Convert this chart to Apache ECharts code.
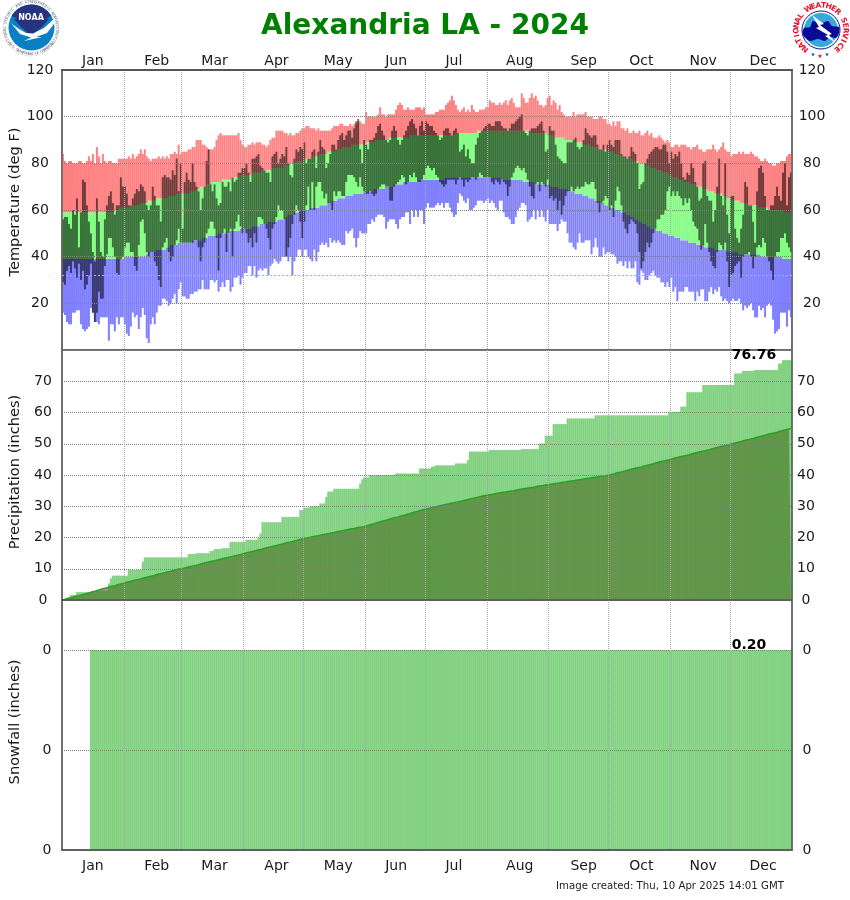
<!DOCTYPE html>
<html><head><meta charset="utf-8">
<script src="https://cdn.jsdelivr.net/npm/echarts@6/dist/echarts.min.js"></script>
<style>html,body{margin:0;padding:0;background:#fff}#c{width:850px;height:900px}</style></head>
<body><div id="c"></div>
<script>
const titleText = 'Alexandria LA - 2024';
const footerText = 'Image created: Thu, 10 Apr 2025 14:01 GMT';
const months = ['Jan','Feb','Mar','Apr','May','Jun','Jul','Aug','Sep','Oct','Nov','Dec'];
const monthDays = [31,29,31,30,31,30,31,31,30,31,30,31];
const monthLabelDay = [15,47,76,107,138,167,196,229,261,290,321,351];
const tempTicks = {min:0,max:120,step:20};
const precipTicks = {min:0,max:80,step:10};
const snowTicks = {min:0,max:0.25,step:0.1};
const freezing = 32;
const precipTotal = '76.76';
const snowTotal = '0.20';

const recordHigh = [
84,81,80,81,81,80,80,80,81,81,80,80,81,83,81,84,80,87,83,80,84,81,80,81,81,80,80,80,82,82,82,
82,82,83,82,84,82,83,84,86,84,86,83,82,81,82,82,82,83,82,83,82,83,82,84,84,85,84,88,84,
85,85,85,86,86,87,87,90,90,90,88,88,87,86,86,86,87,90,92,93,92,92,92,92,92,92,92,92,93,90,88,
87,87,88,88,89,88,89,89,89,88,88,87,88,90,91,91,94,94,94,94,93,93,92,93,92,92,93,93,94,95,
95,96,96,95,95,95,94,95,94,94,94,94,94,94,95,96,96,96,97,97,96,96,96,97,96,97,97,98,98,97,97,
102,100,100,100,100,100,101,104,101,101,100,101,101,101,101,103,105,106,105,103,103,104,103,103,103,104,104,104,103,104,
101,101,101,101,101,102,102,103,103,103,105,106,107,109,107,105,103,102,103,104,102,103,102,105,103,102,102,103,103,103,104,
104,107,106,106,105,105,106,105,106,107,105,107,108,106,104,104,104,110,108,106,106,108,110,108,109,107,105,105,104,105,108,
109,105,107,106,103,105,102,101,100,100,100,100,102,100,101,101,101,101,102,100,100,100,99,99,99,100,100,99,99,97,
97,96,98,96,98,98,95,95,94,95,93,93,94,93,93,94,92,92,93,94,92,93,91,91,91,92,91,90,89,90,89,
87,87,88,88,87,88,88,88,87,87,86,87,87,88,86,86,85,85,86,86,86,88,86,85,86,87,89,86,85,85,
83,84,84,84,85,84,85,84,84,84,85,84,83,83,82,81,81,82,81,80,80,79,79,80,80,81,81,81,83,84,84];

const recordLow = [
16,15,12,11,11,16,16,17,17,11,9,8,9,10,18,16,12,12,11,14,14,14,14,4,11,11,8,14,11,14,14,
11,7,6,10,16,14,15,9,14,18,15,5,3,11,14,11,16,19,19,22,22,21,19,20,22,24,20,26,29,
23,23,22,22,24,24,25,25,26,26,30,26,26,26,30,30,29,30,25,27,29,27,30,30,25,27,31,31,32,28,31,
33,33,36,36,32,36,31,34,35,34,35,35,32,36,37,39,38,37,38,40,40,40,38,40,32,38,40,43,43,40,
43,43,40,39,38,43,38,42,45,46,45,46,44,48,46,47,46,47,46,45,45,51,50,51,52,48,44,48,51,50,50,
50,54,54,56,55,57,58,58,58,57,52,55,56,56,56,54,52,56,57,57,59,59,54,60,57,60,57,60,60,54,
61,63,61,61,61,62,63,62,63,61,63,63,61,59,57,58,63,67,66,64,63,65,60,60,61,62,64,64,64,63,64,
65,63,64,63,61,60,64,64,59,57,57,56,54,54,57,60,61,63,63,62,55,56,57,60,56,60,57,60,57,55,60,
54,54,54,54,51,54,56,55,55,50,46,46,44,43,46,50,46,46,47,47,47,41,44,48,44,40,40,44,41,42,
42,41,41,40,37,38,38,36,38,35,38,35,35,38,29,28,34,33,30,30,32,33,34,32,31,31,29,29,27,29,27,
31,25,27,21,25,25,25,27,27,25,25,25,21,25,23,26,26,21,21,25,27,24,26,25,27,23,21,22,21,20,
21,22,21,21,22,20,17,19,18,19,20,17,14,14,19,17,18,14,19,20,19,13,7,8,9,16,16,16,10,17,14];

const normalHigh = [
59,59,59,59,59,59,59,59,59,59,59,59,59,59,59,59,59,59,59,59,59,59,59,59,59,59,60,60,61,61,61,
61,61,61,62,62,62,62,62,63,63,63,63,64,64,64,64,65,65,65,65,65,65,66,66,66,66,67,67,67,
67,67,67,67,68,68,68,69,69,70,70,70,71,71,71,72,72,72,72,72,73,73,73,73,73,74,74,74,74,75,75,
75,75,75,75,76,76,76,76,76,77,77,77,77,77,78,78,78,78,78,78,79,79,79,80,80,80,81,81,81,81,
82,82,82,82,83,83,83,83,84,84,84,84,85,85,85,85,86,86,86,87,87,87,87,87,88,88,88,88,88,88,88,
89,89,89,89,89,90,90,90,90,90,90,90,91,91,91,91,91,91,91,91,91,91,92,92,92,92,92,92,92,92,
92,92,92,92,92,92,92,92,92,92,92,92,92,92,92,93,93,93,93,93,93,93,93,93,93,93,94,94,94,94,94,
94,94,94,94,94,94,94,94,94,94,94,94,94,94,94,94,94,94,94,94,94,94,93,93,93,93,93,93,93,93,92,
92,92,92,91,91,91,91,91,90,90,90,90,90,89,89,89,89,88,88,88,88,87,87,87,87,86,86,86,86,85,
85,85,85,84,84,84,83,83,83,82,82,82,81,81,81,80,80,80,79,79,79,78,78,78,77,77,77,76,76,76,75,
75,74,74,74,73,73,73,72,72,72,71,71,71,70,70,70,69,69,69,68,68,68,67,67,67,67,66,66,65,65,
65,64,64,64,64,63,63,63,63,62,62,62,62,62,61,61,61,61,61,60,60,60,60,60,60,60,60,59,59,59,59];

const normalLow = [
39,39,39,39,39,39,39,39,39,39,39,39,39,39,39,39,39,39,39,39,39,39,39,39,39,39,39,39,39,39,39,
40,40,40,40,40,40,40,40,40,40,40,41,42,42,42,42,43,43,43,43,43,44,44,45,45,45,45,46,46,
46,46,46,46,46,47,47,47,47,47,48,48,48,49,49,49,49,49,50,50,50,50,50,50,51,51,51,51,51,52,52,
52,52,52,52,53,53,53,53,54,54,54,54,55,55,55,55,55,56,56,56,56,57,58,58,58,59,59,59,60,60,
60,60,60,61,61,61,61,61,62,62,62,62,63,63,64,64,64,65,65,65,65,66,66,66,66,67,67,67,67,67,68,
68,68,68,68,69,69,69,69,69,69,70,70,70,70,71,71,71,71,71,72,72,72,72,72,72,72,72,73,73,73,
73,73,73,73,73,73,73,73,73,73,74,74,74,74,74,74,74,74,74,74,74,74,74,74,74,74,74,74,74,74,74,
74,74,74,74,74,74,74,73,73,73,73,73,73,73,73,73,73,73,72,72,72,72,72,72,71,71,71,71,71,71,71,
71,70,70,70,70,69,69,69,69,69,68,68,68,67,67,67,67,66,66,66,65,65,65,64,64,64,63,63,62,62,
61,61,61,60,60,60,59,59,59,58,58,57,57,56,56,55,55,54,54,53,53,52,52,52,51,51,51,50,50,50,49,
49,49,48,48,48,47,47,47,47,46,46,46,46,45,45,45,45,44,44,44,44,44,43,43,43,43,43,43,42,42,
42,42,42,42,41,41,41,41,41,41,41,41,41,41,41,40,40,40,40,40,40,40,40,40,40,40,39,39,39,39,39];

const actualHigh = [
56,57,57,54,52,60,58,65,44,59,73,72,62,55,50,42,38,65,55,42,40,56,62,66,68,63,58,62,62,74,70,
70,67,62,62,65,67,69,68,71,70,68,62,60,62,70,66,62,62,55,74,75,74,74,73,77,75,82,68,80,
52,72,76,73,72,80,72,70,68,60,65,70,81,86,71,68,71,65,62,63,72,70,70,72,68,74,72,73,76,76,78,
78,80,76,72,82,82,83,84,79,78,77,76,76,72,83,84,85,80,82,84,83,87,80,75,74,82,86,85,87,86,
89,80,82,82,85,86,78,85,90,87,86,78,80,84,88,88,86,90,92,93,90,92,94,94,91,95,98,99,86,80,90,
88,86,90,90,91,93,96,97,94,92,90,89,90,94,96,94,90,88,90,92,94,96,98,99,97,95,92,96,98,94,
98,97,96,96,94,93,92,90,91,94,95,95,93,92,94,95,93,85,86,88,83,86,82,80,80,88,91,93,94,95,96,
97,97,96,96,98,98,98,96,95,95,94,95,97,97,98,99,100,101,94,93,92,94,95,95,95,96,97,98,94,85,86,
96,94,94,88,83,82,81,80,80,89,89,89,90,91,87,86,87,90,95,93,92,91,92,92,88,86,86,88,85,88,
90,88,87,90,90,90,84,83,83,82,83,87,85,84,80,69,71,72,80,82,84,85,86,87,87,86,86,88,88,85,80,
85,82,84,83,85,80,74,73,76,75,80,78,72,70,64,65,80,81,66,64,64,55,60,70,82,66,62,80,58,50,
66,66,52,48,46,52,58,72,70,62,62,55,46,68,78,79,76,66,60,60,62,62,66,70,66,64,76,80,62,74,76];

const actualLow = [
29,28,34,36,33,38,35,31,37,30,34,26,28,32,37,16,12,16,25,22,22,36,41,48,48,44,40,33,32,39,40,
44,46,46,42,42,36,34,45,55,56,50,42,40,42,42,38,36,30,27,44,46,48,42,38,40,45,47,52,46,
46,46,46,46,46,46,47,47,44,38,44,46,50,52,55,55,52,48,34,48,50,52,42,50,52,40,52,55,58,53,50,
52,50,46,48,44,50,46,57,57,56,54,52,48,43,52,54,57,62,60,60,56,40,44,48,54,58,62,60,55,48,
55,62,70,60,72,60,70,72,72,68,65,67,63,63,60,68,66,68,68,66,66,72,75,75,75,74,72,70,74,70,68,
67,67,68,67,66,67,69,70,71,71,70,70,64,64,70,71,72,73,75,74,71,72,75,74,76,74,72,72,73,75,
78,79,78,77,78,75,74,72,71,70,71,73,73,73,73,71,73,74,73,70,73,72,73,74,74,73,74,76,75,74,74,
74,74,72,71,73,72,71,73,72,71,66,70,74,76,78,79,78,77,78,76,73,70,66,65,71,72,68,72,71,70,73,
65,66,64,65,60,64,58,62,66,68,68,70,68,69,70,69,70,70,72,71,71,72,72,69,63,59,63,64,66,65,
60,62,57,64,70,68,62,55,52,50,54,56,55,54,50,42,35,38,42,46,44,46,50,52,56,56,58,58,60,68,70,
66,68,66,68,66,65,62,65,63,65,60,55,53,52,47,43,45,54,46,42,38,36,35,42,46,45,43,46,38,27,
32,33,36,37,38,31,40,41,41,42,40,35,40,44,45,44,48,46,40,38,34,30,40,42,42,48,48,50,46,44,42];

const precipActual = [
0.1,0.3,0.6,0.9,1.6,1.6,1.6,2.5,2.5,2.5,2.5,2.5,2.5,2.5,2.5,2.5,2.5,3.0,3.0,3.0,3.0,3.0,3.0,5.3,6.9,7.8,7.8,7.8,7.8,7.8,7.8,
7.8,7.8,9.6,9.6,9.6,9.6,9.6,9.6,9.6,12.3,13.65,13.65,13.65,13.65,13.65,13.65,13.65,13.65,13.65,13.65,13.65,13.65,13.65,13.65,13.65,13.65,13.65,13.65,13.65,
13.65,13.65,13.65,14.7,14.7,14.7,14.7,15,15,15,15,15,15,15,15.7,15.7,16.3,16.3,16.3,16.3,16.6,16.6,16.6,16.6,18.6,18.6,18.6,18.6,18.6,18.6,18.6,
18.6,19.3,19.3,19.3,19.3,19.3,19.3,19.9,21.3,24.9,24.9,24.9,24.9,24.9,24.9,24.9,24.9,24.9,24.9,26.6,26.6,26.6,26.6,26.6,26.6,26.6,26.6,26.6,28.8,28.8,
29.5,29.5,29.5,30,30,30,30,30,30.9,30.9,30.9,33,34.7,34.7,34.7,35.6,35.6,35.6,35.6,35.6,35.6,35.6,35.6,35.6,35.6,35.6,35.6,35.6,37.3,38.6,39.25,
39.25,39.25,40,40,40,40,40,40,40,40,40,40,40,40,40,40.5,40.5,40.5,40.5,40.5,40.5,40.5,40.5,40.5,40.5,40.5,40.5,42.1,42.1,42.1,
42.1,42.1,42.1,42.7,42.7,43.1,43.1,43.1,43.1,43.1,43.1,43.1,43.1,43.1,43.1,43.7,43.7,43.7,43.7,43.7,43.7,44.8,47.5,47.5,47.5,47.5,47.5,47.5,47.5,47.5,47.5,
47.5,48,48,48,48,48,48,48,48,48,48,48,48,48,48,48,48,48.3,48.3,48.3,48.3,48.3,48.3,48.3,48.3,48.3,50.1,50.1,50.1,52.6,52.6,
52.6,52.6,56.3,56.3,56.3,56.3,56.3,56.3,56.3,58.1,58.1,58.1,58.1,58.1,58.1,58.1,58.1,58.1,58.1,58.1,58.1,58.1,58.1,59.1,59.1,59.1,59.1,59.1,59.1,59.1,
59.1,59.1,59.1,59.1,59.1,59.1,59.1,59.1,59.1,59.1,59.1,59.1,59.1,59.1,59.1,59.1,59.1,59.1,59.1,59.1,59.1,59.1,59.1,59.1,59.1,59.1,59.1,59.1,59.1,59.1,60.2,
60.2,60.2,60.2,60.2,60.2,61.9,61.9,61.9,66.5,66.5,66.5,66.5,66.5,66.5,66.5,66.5,68.8,68.8,68.8,68.8,68.8,68.8,68.8,68.8,68.8,68.8,68.8,68.8,68.8,68.8,
68.8,68.8,72.5,72.5,72.5,72.5,73.3,73.3,73.3,73.3,73.3,73.3,73.6,73.6,73.6,73.6,73.6,73.6,73.6,73.6,73.6,73.6,73.6,73.6,75.7,75.7,76.76,76.76,76.76,76.76,76.76];

const precipNormal = [
0.0,0.2,0.4,0.5,0.7,0.9,1.1,1.2,1.4,1.6,1.8,2.0,2.1,2.3,2.5,2.7,2.8,3.0,3.2,3.4,3.6,3.7,3.9,4.1,4.3,4.4,4.6,4.8,5.0,5.2,5.3,
5.5,5.7,5.8,6.0,6.2,6.3,6.5,6.6,6.8,7.0,7.1,7.3,7.5,7.6,7.8,7.9,8.1,8.3,8.4,8.6,8.8,8.9,9.1,9.2,9.4,9.6,9.7,9.9,10.0,
10.1,10.3,10.4,10.6,10.7,10.9,11.0,11.2,11.3,11.5,11.7,11.8,12.0,12.1,12.3,12.4,12.6,12.7,12.9,13.0,13.2,13.4,13.5,13.7,13.8,14.0,14.1,14.3,14.4,14.6,14.7,
14.9,15.1,15.2,15.4,15.5,15.7,15.9,16.0,16.2,16.3,16.5,16.7,16.8,17.0,17.1,17.3,17.5,17.6,17.8,17.9,18.1,18.3,18.4,18.6,18.7,18.9,19.1,19.2,19.4,19.5,
19.7,19.8,20.0,20.1,20.2,20.4,20.5,20.6,20.7,20.9,21.0,21.1,21.3,21.4,21.5,21.6,21.8,21.9,22.0,22.2,22.3,22.4,22.5,22.7,22.8,22.9,23.1,23.2,23.3,23.4,23.6,
23.7,23.9,24.1,24.3,24.4,24.6,24.8,25.0,25.2,25.4,25.5,25.7,25.9,26.1,26.3,26.4,26.6,26.8,27.0,27.2,27.3,27.5,27.7,27.9,28.1,28.3,28.4,28.6,28.8,29.0,
29.1,29.3,29.4,29.6,29.7,29.8,30.0,30.1,30.3,30.4,30.6,30.7,30.9,31.0,31.1,31.3,31.4,31.6,31.7,31.9,32.0,32.2,32.3,32.4,32.6,32.7,32.9,33.0,33.2,33.3,33.5,
33.6,33.7,33.8,33.9,34.0,34.2,34.3,34.4,34.5,34.6,34.7,34.8,34.9,35.0,35.1,35.3,35.4,35.5,35.6,35.7,35.8,35.9,36.0,36.1,36.2,36.4,36.5,36.6,36.7,36.8,36.9,
37.0,37.1,37.2,37.3,37.4,37.5,37.6,37.7,37.8,37.9,38.0,38.1,38.2,38.3,38.4,38.5,38.6,38.7,38.8,38.9,39.0,39.1,39.2,39.3,39.4,39.5,39.6,39.7,39.8,39.9,
40.0,40.2,40.3,40.5,40.7,40.8,41.0,41.2,41.3,41.5,41.7,41.8,42.0,42.2,42.3,42.5,42.6,42.8,43.0,43.1,43.3,43.5,43.6,43.8,44.0,44.1,44.3,44.5,44.6,44.8,44.9,
45.1,45.3,45.4,45.6,45.7,45.9,46.1,46.2,46.4,46.5,46.7,46.9,47.0,47.2,47.3,47.5,47.7,47.8,48.0,48.1,48.3,48.5,48.6,48.8,48.9,49.1,49.3,49.4,49.6,49.7,
49.9,50.1,50.2,50.4,50.6,50.7,50.9,51.1,51.2,51.4,51.6,51.7,51.9,52.1,52.2,52.4,52.6,52.7,52.9,53.1,53.2,53.4,53.6,53.7,53.9,54.1,54.2,54.4,54.6,54.7,54.9];

const snowActual = [
0,0,0,0,0,0,0,0,0,0,0,0,0,0,.2,.2,.2,.2,.2,.2,.2,.2,.2,.2,.2,.2,.2,.2,.2,.2,.2,
.2,.2,.2,.2,.2,.2,.2,.2,.2,.2,.2,.2,.2,.2,.2,.2,.2,.2,.2,.2,.2,.2,.2,.2,.2,.2,.2,.2,.2,
.2,.2,.2,.2,.2,.2,.2,.2,.2,.2,.2,.2,.2,.2,.2,.2,.2,.2,.2,.2,.2,.2,.2,.2,.2,.2,.2,.2,.2,.2,.2,
.2,.2,.2,.2,.2,.2,.2,.2,.2,.2,.2,.2,.2,.2,.2,.2,.2,.2,.2,.2,.2,.2,.2,.2,.2,.2,.2,.2,.2,.2,
.2,.2,.2,.2,.2,.2,.2,.2,.2,.2,.2,.2,.2,.2,.2,.2,.2,.2,.2,.2,.2,.2,.2,.2,.2,.2,.2,.2,.2,.2,.2,
.2,.2,.2,.2,.2,.2,.2,.2,.2,.2,.2,.2,.2,.2,.2,.2,.2,.2,.2,.2,.2,.2,.2,.2,.2,.2,.2,.2,.2,.2,
.2,.2,.2,.2,.2,.2,.2,.2,.2,.2,.2,.2,.2,.2,.2,.2,.2,.2,.2,.2,.2,.2,.2,.2,.2,.2,.2,.2,.2,.2,.2,
.2,.2,.2,.2,.2,.2,.2,.2,.2,.2,.2,.2,.2,.2,.2,.2,.2,.2,.2,.2,.2,.2,.2,.2,.2,.2,.2,.2,.2,.2,.2,
.2,.2,.2,.2,.2,.2,.2,.2,.2,.2,.2,.2,.2,.2,.2,.2,.2,.2,.2,.2,.2,.2,.2,.2,.2,.2,.2,.2,.2,.2,
.2,.2,.2,.2,.2,.2,.2,.2,.2,.2,.2,.2,.2,.2,.2,.2,.2,.2,.2,.2,.2,.2,.2,.2,.2,.2,.2,.2,.2,.2,.2,
.2,.2,.2,.2,.2,.2,.2,.2,.2,.2,.2,.2,.2,.2,.2,.2,.2,.2,.2,.2,.2,.2,.2,.2,.2,.2,.2,.2,.2,.2,
.2,.2,.2,.2,.2,.2,.2,.2,.2,.2,.2,.2,.2,.2,.2,.2,.2,.2,.2,.2,.2,.2,.2,.2,.2,.2,.2,.2,.2,.2,.2];

// ---- category axis helpers
const dayCats = [], monthStart = {}, monthMid = {};
monthDays.forEach((n, m) => {
  monthStart[dayCats.length] = true;
  monthMid[monthLabelDay[m]] = months[m];
  for (let d = 1; d <= n; d++) dayCats.push(months[m] + ' ' + d);
});
const FONT = '"DejaVu Sans", Verdana, sans-serif';
const diff = (a, b) => a.map((v, i) => +(v - b[i]).toFixed(2));
const fixedFont = {fontFamily: FONT, fontSize: 14, color: '#1a1a1a'};

function xAxis(gridIndex, position, labels, margin) {
  return {
    type: 'category', gridIndex, position, data: dayCats, z: 6,
    axisTick: {show: false},
    axisLine: {show: true, onZero: false, lineStyle: {color: '#555', width: position === 'top' ? 2 : 1.5}},
    axisLabel: {show: labels, ...fixedFont, margin, interval: (i) => monthMid[i] !== undefined, formatter: (v, i) => monthMid[i] || '', hideOverlap: false},
    splitLine: {show: true, interval: (i) => monthStart[i] === true && i > 0, lineStyle: {color: '#a6a6a6', type: [1, 1], width: 1}}
  };
}
function yAxis(gridIndex, position, ticks, margin, labelExtra, opts) {
  return Object.assign({
    type: 'value', gridIndex, position, min: ticks.min, max: ticks.max, interval: ticks.step, z: 6,
    axisTick: {show: false},
    axisLine: {show: true, onZero: false, lineStyle: {color: '#666', width: 1.5}},
    axisLabel: {...fixedFont, margin, align: 'center', ...labelExtra},
    splitLine: {show: false}
  }, opts || {});
}
const hGrid = {show: true, lineStyle: {color: '#808080', type: [1, 1], width: 1}};
const nameOpt = (name, gap, pad) => ({
  name, nameLocation: 'middle', nameGap: gap, nameRotate: 90, nameMoveOverlap: false,
  nameTextStyle: {fontFamily: FONT, fontSize: 14.6, color: '#1a1a1a', padding: pad}
});
const zeroFmt = (v) => v.toFixed(0);

function bar(name, data, color, stack, x, y, z) {
  return {name, type: 'bar', data, stack, xAxisIndex: x, yAxisIndex: y, barWidth: 2, barGap: '-100%',
          itemStyle: {color}, z: z || 2, silent: true, animation: false, emphasis: {disabled: true}};
}
const series = [
  bar('recordLowBase', recordLow, 'transparent', 'band', 0, 0),
  bar('belowNormalLow', diff(normalLow, recordLow), '#8080ff', 'band', 0, 0),
  bar('normalRange', diff(normalHigh, normalLow), '#80ff80', 'band', 0, 0),
  bar('aboveNormalHigh', diff(recordHigh, normalHigh), '#ff8080', 'band', 0, 0),
  bar('actualLowBase', actualLow, 'transparent', 'obs', 0, 0, 3),
  Object.assign(bar('actualRange', diff(actualHigh, actualLow), 'rgba(0,0,0,0.55)', 'obs', 0, 0, 3), {
    markLine: {silent: true, symbol: 'none', animation: false, label: {show: false}, z: 8,
      lineStyle: {color: '#00ffff', type: [2, 2], width: 1}, data: [{yAxis: freezing}]}
  }),
  {name: 'normalPrecipArea', type: 'line', data: precipNormal, xAxisIndex: 1, yAxisIndex: 1, showSymbol: false, silent: true,
   lineStyle: {width: 0}, areaStyle: {color: '#b98c8c', opacity: 1}, z: 1, animation: false},
  bar('precip', precipActual, 'rgba(0,163,0,0.49)', undefined, 1, 1, 2),
  {name: 'normalPrecipLine', type: 'line', data: precipNormal, xAxisIndex: 1, yAxisIndex: 1, showSymbol: false, silent: true,
   lineStyle: {width: 1.5, color: '#2aa020'}, z: 3, animation: false},
  bar('snow', snowActual, 'rgba(0,163,0,0.49)', undefined, 2, 2, 2)
];

// ---- logo helpers (decoration, drawn as graphic elements)
function ring(text, cx, cy, r, a0, a1, font, fill, flip) {
  const out = [], n = text.length;
  for (let i = 0; i < n; i++) {
    if (text[i] === ' ') continue;
    const th = (a0 + (a1 - a0) * i / (n - 1)) * Math.PI / 180;
    out.push({type: 'text', x: cx + r * Math.sin(th), y: cy - r * Math.cos(th),
      rotation: flip ? Math.PI - th : -th, silent: true,
      style: {text: text[i], fill, font, textAlign: 'center', textVerticalAlign: 'middle'}});
  }
  return out;
}
const noaaLogo = [
  {type: 'circle', shape: {cx: 31, cy: 28, r: 28}, style: {fill: '#fff', stroke: '#c9ced8', lineWidth: 0.6}},
  {type: 'circle', shape: {cx: 31.5, cy: 27.5, r: 23}, style: {fill: '#0a7fc4'}},
  {type: 'sector', shape: {cx: 31.5, cy: 27.5, r: 23, startAngle: Math.PI * 1.17, endAngle: Math.PI * 1.83}, style: {fill: '#27337f'}},
  {type: 'polygon', shape: {points: [[14,19],[49,19],[42,27],[33,34],[29,34],[21,27]]}, style: {fill: '#27337f'}},
  {type: 'polygon', shape: {points: [[6,17],[12,24],[19,29],[26,33],[33,33.5],[44,28],[55,18],[57,20],[47,33],[36,37],[42,37],[24,41],[31,37.5],[20,34]]}, style: {fill: '#fff'}},
  {type: 'text', x: 31, y: 18, style: {text: 'NOAA', fill: '#fff', font: 'bold 8px ' + FONT, textAlign: 'center', textVerticalAlign: 'middle'}},
  ...ring('NATIONAL OCEANIC AND ATMOSPHERIC ADMINISTRATION', 31, 28, 26, -128, 128, '3.6px ' + FONT, '#5a6480'),
  ...ring('U.S. DEPARTMENT OF COMMERCE', 31, 28, 26, 232, 128, '3.6px ' + FONT, '#5a6480', true)
];
const nwsLogo = [
  {type: 'circle', shape: {cx: 821, cy: 30, r: 19}, style: {fill: '#fff', stroke: '#10108a', lineWidth: 1}},
  {type: 'circle', shape: {cx: 821, cy: 30, r: 17}, style: {fill: '#35a9dd'}},
  {type: 'polygon', shape: {smooth: 0.3, points: [[803,35],[804,28],[810,27],[813,21],[820,24],[828,21],[832,26],[839,27],[839,33],[836,38],[830,37],[825,41],[818,39],[810,41]]}, style: {fill: '#0a0a96'}},
  {type: 'polygon', shape: {points: [[812,15],[824,24],[820,25],[832,34],[829,35],[836,43],[825,36],[828,35],[816,28],[819,27]]}, style: {fill: '#fff'}},
  ...ring('NATIONAL WEATHER SERVICE', 821, 30, 24.5, -140, 140, 'bold 7.5px ' + FONT, '#e8102a'),
  {type: 'text', x: 813, y: 55, style: {text: '★', fill: '#2230a0', font: '5px ' + FONT, textAlign: 'center', textVerticalAlign: 'middle'}},
  {type: 'text', x: 820, y: 56, style: {text: '★', fill: '#e8102a', font: '6px ' + FONT, textAlign: 'center', textVerticalAlign: 'middle'}},
  {type: 'text', x: 827, y: 55, style: {text: '★', fill: '#2230a0', font: '5px ' + FONT, textAlign: 'center', textVerticalAlign: 'middle'}}
];

const chart = echarts.init(document.getElementById('c'), null, {renderer: 'canvas', width: 850, height: 900});
const gridBase = {left: 62, right: 58, show: true, borderColor: '#666', borderWidth: 1.5, outerBoundsMode: 'none', containLabel: false};
chart.setOption({
  animation: false,
  backgroundColor: '#fff',
  title: {text: titleText, left: 'center', top: 8, textStyle: {fontFamily: FONT, fontSize: 28, fontWeight: 'bold', color: '#008000'}},
  grid: [
    {...gridBase, top: 70, height: 280},
    {...gridBase, top: 350, height: 250},
    {...gridBase, top: 600, height: 250}
  ],
  xAxis: [xAxis(0, 'top', true, 2), xAxis(1, 'bottom', false, 3), xAxis(2, 'bottom', true, 9)],
  yAxis: [
    yAxis(0, 'left', tempTicks, 22, {showMinLabel: false}, {splitLine: hGrid, ...nameOpt('Temperature (deg F)', 39, [0, 0, 0, 16])}),
    yAxis(1, 'left', precipTicks, 19, {showMaxLabel: false}, {splitLine: hGrid, ...nameOpt('Precipitation (inches)', 39, [0, 0, 0, 6])}),
    yAxis(2, 'left', snowTicks, 15, {showMaxLabel: false, formatter: zeroFmt}, {splitLine: hGrid, ...nameOpt('Snowfall (inches)', 39, [0, 0, 0, 6])}),
    yAxis(0, 'right', tempTicks, 20, {showMinLabel: false}),
    yAxis(1, 'right', precipTicks, 14, {showMaxLabel: false}),
    yAxis(2, 'right', snowTicks, 15, {showMaxLabel: false, formatter: zeroFmt})
  ],
  series,
  graphic: [
    ...noaaLogo, ...nwsLogo,
    {type: 'text', x: 754, y: 355, z: 20, style: {text: precipTotal, fill: '#000', font: 'bold 14px ' + FONT, textAlign: 'center', textVerticalAlign: 'middle'}},
    {type: 'text', x: 749, y: 645, z: 20, style: {text: snowTotal, fill: '#000', font: 'bold 14px ' + FONT, textAlign: 'center', textVerticalAlign: 'middle'}},
    {type: 'text', x: 556, y: 886, z: 20, style: {text: footerText, fill: '#222', font: '10.2px ' + FONT, textAlign: 'left', textVerticalAlign: 'middle'}}
  ]
});
</script></body></html>
